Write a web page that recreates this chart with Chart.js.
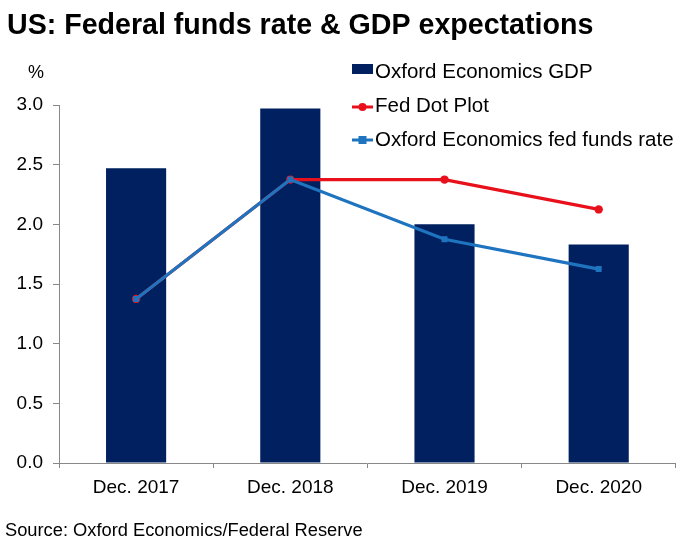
<!DOCTYPE html>
<html>
<head>
<meta charset="utf-8">
<script src="https://cdn.jsdelivr.net/npm/chart.js@4"></script>
<style>
html,body{margin:0;padding:0;background:#fff;}
#wrap{position:relative;width:680px;height:543px;}
</style>
</head>
<body>
<div id="wrap"><canvas id="c" width="680" height="543"></canvas></div>
<script>
const categories = ["Dec. 2017", "Dec. 2018", "Dec. 2019", "Dec. 2020"];
const gdp = [2.47, 2.97, 2.0, 1.83];
const fedDotPlot = [1.375, 2.375, 2.375, 2.125];
const oeFedFunds = [1.375, 2.375, 1.875, 1.625];
const yTicks = [0, 0.5, 1.0, 1.5, 2.0, 2.5, 3.0];
const titleText = "US: Federal funds rate & GDP expectations";
const sourceText = "Source: Oxford Economics/Federal Reserve";
const unitText = "%";

const NAVY = "#00205f";
const RED = "#e8101b";
const BLUE = "#1f74c0";
const FONT = "'Liberation Sans', Arial, sans-serif";

const extras = {
  id: "extras",
  afterDraw(chart) {
    const ctx = chart.ctx;
    ctx.save();
    ctx.fillStyle = "#000";
    ctx.textBaseline = "alphabetic";
    ctx.textAlign = "left";
    ctx.font = "bold 28.6px " + FONT;
    ctx.fillText(titleText, 7, 33.5);
    ctx.font = "18px " + FONT;
    ctx.fillText(unitText, 28, 78);
    ctx.font = "18.3px " + FONT;
    ctx.fillText(sourceText, 5, 536);

    // legend
    const ds = chart.data.datasets;
    const baselines = [77.5, 111.5, 146];
    const markY = [69, 107, 140];
    ctx.font = "20.5px " + FONT;
    ds.forEach((d, i) => {
      const y = markY[i];
      if (d.type === "bar") {
        ctx.fillStyle = d.backgroundColor;
        ctx.fillRect(352, y - 5, 21, 10);
      } else {
        ctx.strokeStyle = d.borderColor;
        ctx.lineWidth = 3;
        ctx.beginPath();
        ctx.moveTo(352, y);
        ctx.lineTo(373, y);
        ctx.stroke();
        ctx.fillStyle = d.borderColor;
        if (d.pointStyle === "rect") {
          ctx.fillRect(358.5, y - 4, 8, 8);
        } else {
          ctx.beginPath();
          ctx.arc(362.5, y, 4, 0, Math.PI * 2);
          ctx.fill();
        }
      }
      ctx.fillStyle = "#000";
      ctx.fillText(d.label, 375, baselines[i]);
    });
    ctx.restore();
  }
};

new Chart(document.getElementById("c"), {
  type: "bar",
  data: {
    labels: categories,
    datasets: [
      {
        type: "bar",
        label: "Oxford Economics GDP",
        data: gdp,
        backgroundColor: NAVY,
        barPercentage: 0.39,
        categoryPercentage: 1.0,
        order: 3
      },
      {
        type: "line",
        label: "Fed Dot Plot",
        data: fedDotPlot,
        borderColor: RED,
        backgroundColor: RED,
        borderWidth: 3.2,
        pointStyle: "circle",
        pointRadius: 4.2,
        pointBackgroundColor: RED,
        pointBorderWidth: 0,
        fill: false,
        tension: 0,
        order: 2
      },
      {
        type: "line",
        label: "Oxford Economics fed funds rate",
        data: oeFedFunds,
        borderColor: BLUE,
        backgroundColor: BLUE,
        borderWidth: 3.2,
        pointStyle: "rect",
        pointRadius: 4.2,
        pointBackgroundColor: BLUE,
        pointBorderWidth: 0,
        fill: false,
        tension: 0,
        order: 1
      }
    ]
  },
  options: {
    responsive: false,
    animation: false,
    devicePixelRatio: 1,
    layout: { padding: { top: 105, left: 0, right: 1, bottom: 0 } },
    plugins: {
      legend: { display: false },
      title: { display: false },
      tooltip: { enabled: false }
    },
    scales: {
      x: {
        offset: true,
        grid: {
          offset: true,
          drawOnChartArea: false,
          drawTicks: true,
          tickLength: 5,
          color: "#888"
        },
        border: { color: "#888", width: 1 },
        ticks: {
          color: "#000",
          font: { family: FONT, size: 19 },
          padding: 8,
          maxRotation: 0
        },
        afterFit(scale) { scale.height = 80; }
      },
      y: {
        min: 0,
        max: 3,
        afterBuildTicks(scale) { scale.ticks = yTicks.map(v => ({ value: v })); },
        grid: {
          drawOnChartArea: false,
          drawTicks: true,
          tickLength: 6,
          color: "#888"
        },
        border: { color: "#888", width: 1 },
        ticks: {
          color: "#000",
          font: { family: FONT, size: 19 },
          padding: 10,
          callback: v => Number(v).toFixed(1)
        },
        afterFit(scale) { scale.width = 59; }
      }
    }
  },
  plugins: [extras]
});
</script>
</body>
</html>
